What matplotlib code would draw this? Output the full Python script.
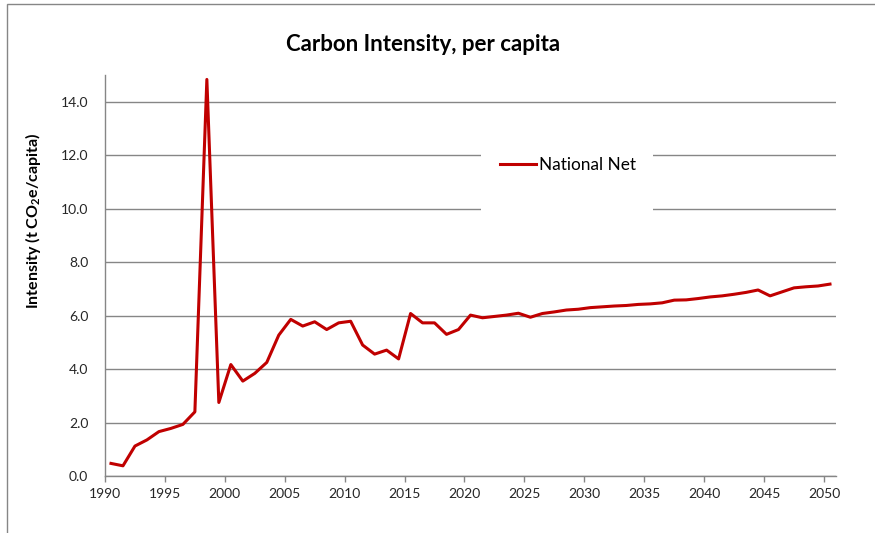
import numpy as np
from matplotlib import pyplot as plt
from matplotlib.patches import Rectangle

plt.rcParams['font.family'] = ['Lato', 'DejaVu Sans']
plt.rcParams['mathtext.fontset'] = 'custom'
plt.rcParams['mathtext.rm'] = 'Lato'
plt.rcParams['mathtext.bf'] = 'Lato:bold'

years = np.arange(1990, 2051)
national_net = [
    0.47, 0.38, 1.12, 1.35, 1.66, 1.78, 1.93, 2.40, 14.84, 2.75,
    4.17, 3.55, 3.84, 4.25, 5.27, 5.86, 5.61, 5.77, 5.48, 5.73,
    5.79, 4.90, 4.56, 4.71, 4.38, 6.08, 5.73, 5.73, 5.30, 5.48,
    6.02, 5.92, 5.97, 6.02, 6.09, 5.94, 6.08, 6.14, 6.21, 6.24,
    6.30, 6.33, 6.36, 6.38, 6.42, 6.44, 6.48, 6.58, 6.59, 6.64,
    6.70, 6.74, 6.80, 6.87, 6.96, 6.74, 6.89, 7.04, 7.08, 7.11,
    7.18,
]
xticks = np.arange(1990, 2051, 5)
yticks = np.arange(0, 15, 2)

fig = plt.figure(figsize=(8.75, 5.33), dpi=100)
ax = fig.add_axes([0.12, 0.107, 0.8354, 0.752])

grey = '#868686'
red = '#C00000'

# each year sits in the middle of its one-year slot on the axis
ax.plot(years + 0.5, national_net, color=red, lw=2.2, label='National Net', zorder=3)

ax.set_xlim(1990, 2051)
ax.set_ylim(0, 15)
ax.set_xticks(xticks)
ax.set_yticks(yticks)
ax.set_yticklabels([f'{v:.1f}' for v in yticks])
ax.yaxis.grid(True, color=grey, lw=1.0)
ax.set_axisbelow(True)

for s in ['top', 'right']:
    ax.spines[s].set_visible(False)
for s in ['left', 'bottom']:
    ax.spines[s].set_color(grey)
    ax.spines[s].set_linewidth(1.0)

ax.tick_params(axis='x', direction='out', length=4, color=grey, width=1.0,
               labelsize=10, labelcolor='#262626', pad=5)
ax.tick_params(axis='y', length=0, labelsize=10, labelcolor='#262626', pad=12)

# white box behind the legend hides the gridlines
ax.add_patch(Rectangle((0.514, 0.626), 0.235, 0.237, transform=ax.transAxes,
                       facecolor='white', edgecolor='none', zorder=1.8))
ax.legend(loc='center left', bbox_to_anchor=(0.5405, 0.776), frameon=False,
          fontsize=12.4, handlelength=2.1, handletextpad=0.15,
          borderpad=0, borderaxespad=0)

fig.text(0.484, 0.917, 'Carbon Intensity, per capita', ha='center', va='center',
         fontsize=16, fontweight='bold')
fig.text(0.038, 0.585, r'Intensity (t CO$_\mathbf{2}$e/capita)', rotation=90,
         ha='center', va='center', fontsize=11.5, fontweight='bold')

# chart frame
fig.add_artist(Rectangle((7 / 875, -0.05), 1.1, 1 - 4 / 533 + 0.05,
                         transform=fig.transFigure, fill=False,
                         edgecolor=grey, lw=1.0))

fig.savefig('out.png', dpi=100)
